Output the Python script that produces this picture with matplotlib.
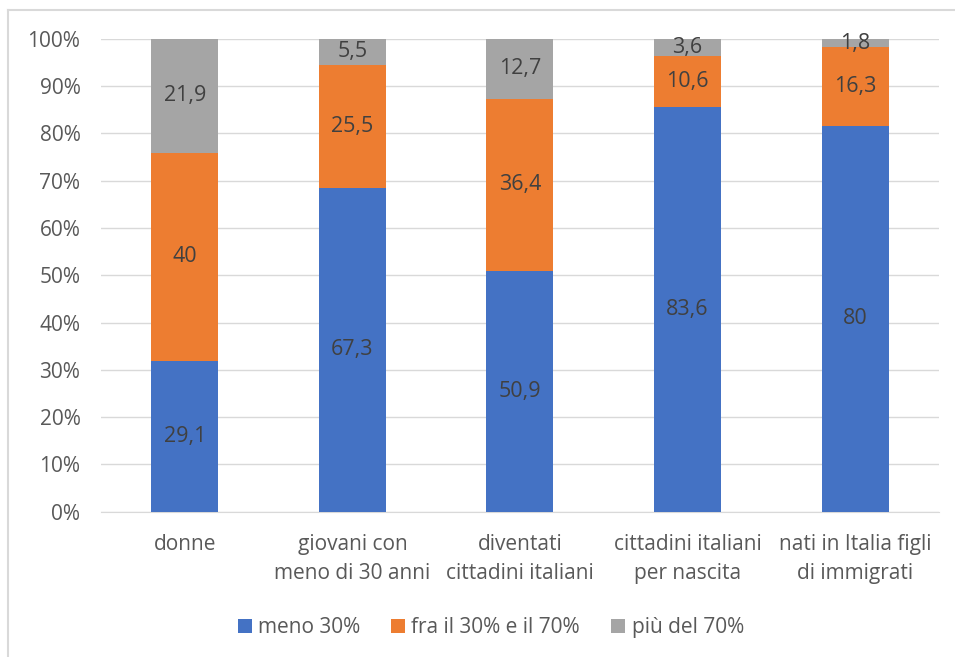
import numpy as np
import matplotlib.pyplot as plt
from matplotlib.lines import Line2D

plt.rcParams['font.family'] = ['Open Sans', 'DejaVu Sans']

categorie = ['donne', 'giovani con\nmeno di 30 anni', 'diventati\ncittadini italiani',
             'cittadini italiani\nper nascita', 'nati in Italia figli\ndi immigrati']
meno_30 = [29.1, 67.3, 50.9, 83.6, 80]
fra_30_70 = [40, 25.5, 36.4, 10.6, 16.3]
piu_70 = [21.9, 5.5, 12.7, 3.6, 1.8]
serie = ['meno 30%', 'fra il 30% e il 70%', 'più del 70%']
colori = ['#4472C4', '#ED7D31', '#A5A5A5']

dati = np.array([meno_30, fra_30_70, piu_70])
totali = dati.sum(axis=0)
quote = dati / totali * 100

fig = plt.figure(figsize=(9.55, 6.57), dpi=100)
ax = fig.add_axes([0.106, 0.221, 0.877, 0.72])

x = np.arange(len(categorie))
base = np.zeros(len(categorie))
for i in range(3):
    ax.bar(x, quote[i], 0.4, bottom=base, color=colori[i], label=serie[i], zorder=3)
    for j in range(len(categorie)):
        etichetta = ('%g' % dati[i][j]).replace('.', ',')
        ax.text(x[j], base[j] + quote[i][j] / 2, etichetta, ha='center', va='center',
                fontsize=15.5, color='#404040', zorder=4)
    base += quote[i]

ax.set_xlim(-0.5, len(categorie) - 0.5)
ax.set_ylim(0, 100)
ax.set_yticks(np.arange(0, 101, 10))
ax.set_yticklabels(['%d%%' % v for v in range(0, 101, 10)])
ax.set_xticks(x)
ax.set_xticklabels(categorie, linespacing=1.5)
ax.tick_params(axis='both', length=0, labelsize=15, colors='#595959')
ax.tick_params(axis='y', pad=15)
ax.tick_params(axis='x', pad=16)
ax.grid(axis='y', color='#D9D9D9', linewidth=1, zorder=0)
for s in ['top', 'right', 'left']:
    ax.spines[s].set_visible(False)
ax.spines['bottom'].set_color('#D9D9D9')

ax.legend(loc='center', bbox_to_anchor=(0.465, -0.245), ncol=3, frameon=False,
          fontsize=15, labelcolor='#595959', handlelength=0.67, handleheight=0.67,
          handletextpad=0.3, columnspacing=1.5)

# cornice del grafico (visibili solo lato sinistro e superiore)
fig.add_artist(Line2D([8 / 955, 8 / 955], [0, 1 - 10 / 657], transform=fig.transFigure,
                      color='#D9D9D9', linewidth=1.5))
fig.add_artist(Line2D([8 / 955, 1], [1 - 10 / 657, 1 - 10 / 657], transform=fig.transFigure,
                      color='#D9D9D9', linewidth=1.5))

fig.savefig('out.png', dpi=100)
